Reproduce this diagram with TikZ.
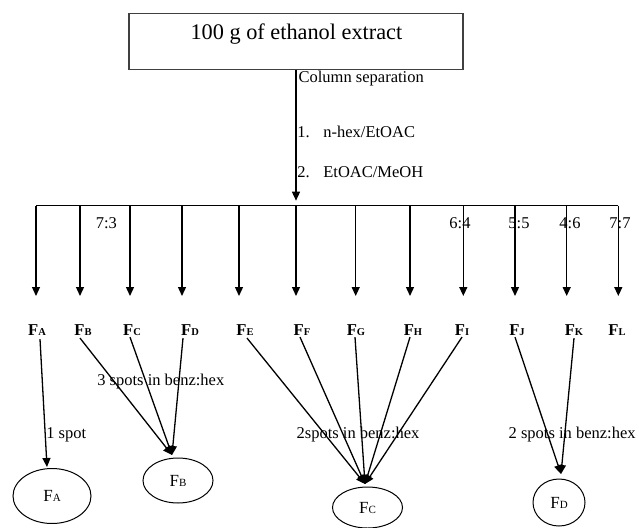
\documentclass[tikz,border=0pt]{standalone}
\usepackage{fontspec}
\setmainfont{Liberation Serif}
\usetikzlibrary{arrows.meta,shapes.geometric}
\newcommand\flab[1]{\textbf{F{\fontsize{10.5}{12}\selectfont #1}}}
\newcommand\elab[1]{F{\fontsize{11}{12}\selectfont #1}}
\begin{document}
\begin{tikzpicture}[x=1pt,y=-1pt, line width=1.3pt,
  arr/.style={-{Triangle[width=8pt,length=9pt]}},
  lbl/.style={font=\fontsize{16.5}{18}\selectfont, inner sep=0pt, anchor=west},
  ratio/.style={font=\fontsize{16.5}{18}\selectfont, inner sep=0pt},
  flbl/.style={font=\fontsize{16.6}{18}\selectfont, inner sep=0pt},
  oval/.style={draw, ellipse, inner sep=0pt, line width=1pt, font=\fontsize{17}{18}\selectfont}]
\useasboundingbox (0,0) rectangle (639,527);
% source box
\node[draw=black!75, line width=1.4pt, minimum width=333.7pt, minimum height=56pt, inner sep=0pt] (src) at (296,41.3) {};
\node[font=\fontsize{22.3}{24}\selectfont, inner sep=0pt] (title) at (296.4,34) {100 g of ethanol extract};
\coordinate (hub) at (296,200.7);
\draw[arr] (src.south) -- (hub);
\node[lbl] (cs) at (298,79) {Column separation};
\node[lbl] (n1) at (296.7,131.7) {1.};
\node[lbl] (s1) at (322.7,131.7) {n-hex/EtOAC};
\node[lbl] (n2) at (296.7,171.7) {2.};
\node[lbl] (s2) at (322.7,171.7) {EtOAC/MeOH};
% distribution line
\coordinate (hl) at (36,205.7);
\coordinate (hr) at (618.3,205.7);
\draw (hl) -- (hr);
\foreach \x/\n in {36/a,80/b,130/c,182/d,239/e,296/f,355.7/g,410/h,463.3/i,515/j,566.7/k,618.3/l}{
  \coordinate (t\n) at (\x,205.7);
  \coordinate (b\n) at (\x,296);
  \draw[arr] (t\n) -- (b\n);
}
% ratios
\node[ratio] (r73) at (106.3,223) {7:3};
\node[ratio] (r64) at (460,223) {6:4};
\node[ratio] (r55) at (519,223) {5:5};
\node[ratio] (r46) at (570,223) {4:6};
\node[ratio] (r77) at (620,223) {7:7};
% fraction labels
\node[flbl] (FA) at (37,330) {\flab{A}};
\node[flbl] (FB) at (83,330) {\flab{B}};
\node[flbl] (FC) at (132,330) {\flab{C}};
\node[flbl] (FD) at (190,330) {\flab{D}};
\node[flbl] (FE) at (245,330) {\flab{E}};
\node[flbl] (FF) at (302,330) {\flab{F}};
\node[flbl] (FG) at (356,330) {\flab{G}};
\node[flbl] (FH) at (413,330) {\flab{H}};
\node[flbl] (FI) at (462,330) {\flab{I}};
\node[flbl] (FJ) at (517,330) {\flab{J}};
\node[flbl] (FK) at (574,330) {\flab{K}};
\node[flbl] (FL) at (617,330) {\flab{L}};
% pooled fractions
\node[oval, minimum width=78pt, minimum height=55pt] (eA) at (52,496) {\elab{A}};
\node[oval, minimum width=70pt, minimum height=45pt] (eB) at (178,480.5) {\elab{B}};
\node[oval, minimum width=70pt, minimum height=41pt] (eC) at (367.5,507.5) {\elab{C}};
\node[oval, minimum width=52pt, minimum height=47pt] (eD) at (559,502.5) {\elab{D}};
\coordinate (tipA) at (47,467);
\coordinate (tipB) at (172,455);
\coordinate (tipC) at (365,484);
\coordinate (tipD) at (561,474);
\draw[arr] ([xshift=3pt,yshift=-3pt]FA.south) -- (tipA);
\draw[arr] ([xshift=-3pt,yshift=-2pt]FB.south) -- (tipB);
\draw[arr] ([xshift=-2pt,yshift=-1pt]FC.south) -- (tipB);
\draw[arr] ([xshift=-7pt,yshift=-2pt]FD.south) -- (tipB);
\draw[arr] ([xshift=2pt,yshift=-2pt]FE.south) -- (tipC);
\draw[arr] ([xshift=-2pt,yshift=-1pt]FF.south) -- (tipC);
\draw[arr] ([xshift=-1pt,yshift=-1pt]FG.south) -- (tipC);
\draw[arr] ([xshift=-3pt,yshift=-1pt]FH.south) -- (tipC);
\draw[arr] ([xshift=0pt,yshift=-1pt]FI.south) -- (tipC);
\draw[arr] ([xshift=-2pt,yshift=-1pt]FJ.south) -- (tipD);
\draw[arr] ([xshift=0pt,yshift=-2pt]FK.south) -- (tipD);
% spot labels
\node[lbl] (l3) at (96.7,381.7) {3 spots in benz:hex};
\node[lbl] (l1) at (45.7,435) {1 spot};
\node[lbl] (l2a) at (296,435) {2spots in benz:hex};
\node[lbl] (l2b) at (508,435) {2 spots in benz:hex};
\end{tikzpicture}
\end{document}
